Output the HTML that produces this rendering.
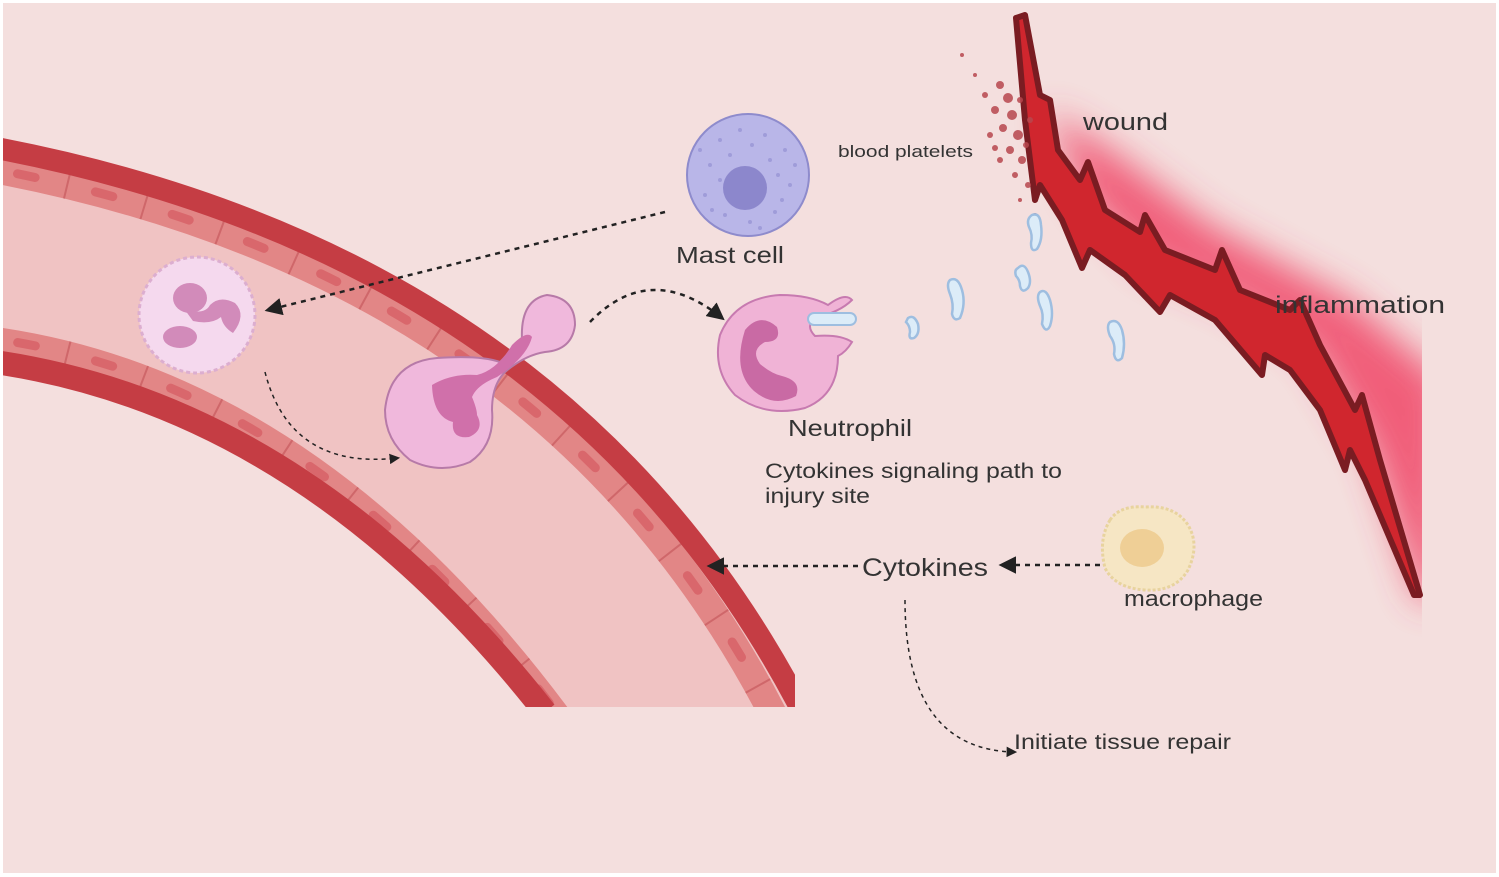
<!DOCTYPE html>
<html><head><meta charset="utf-8"><style>
html,body{margin:0;padding:0;background:#fff;}
svg{display:block;}
text{font-family:"Liberation Sans",sans-serif;fill:#333;}
</style></head><body>
<svg width="1499" height="877" viewBox="0 0 1499 877" xmlns="http://www.w3.org/2000/svg">
<defs>
<clipPath id="vc"><rect x="3" y="0" width="792" height="707"/></clipPath>
<clipPath id="gc"><rect x="900" y="0" width="522" height="877"/></clipPath>
<filter id="bl" x="-50%" y="-50%" width="200%" height="200%"><feGaussianBlur stdDeviation="18"/></filter>
<marker id="ah" viewBox="0 0 10 10" refX="8" refY="5" markerWidth="7" markerHeight="7" orient="auto"><path d="M0,0 L10,5 L0,10 z" fill="#222"/></marker>
</defs>
<rect x="0" y="0" width="1499" height="877" fill="#fff"/>
<rect x="3" y="3" width="1493" height="870" fill="#f4dfde"/>

<!-- vessel -->
<g clip-path="url(#vc)">
  <path d="M-20,145 Q560,250 800,707 L560,707 Q300,400 -20,360 Z" fill="#f0c3c3"/>
  <path d="M-12,168 Q548,272 776,720" fill="none" stroke="#e28686" stroke-width="28"/>
  <path d="M-12,168 Q548,272 776,720" fill="none" stroke="#c75a5e" stroke-width="28" stroke-dasharray="2 78" opacity="0.7"/>
  <path d="M-12,168 Q548,272 776,720" fill="none" stroke="#d9676c" stroke-width="9" stroke-dasharray="18 62" stroke-linecap="round" stroke-dashoffset="-30"/>
  <path d="M-12,338 Q310,380 562,720" fill="none" stroke="#e28686" stroke-width="24"/>
  <path d="M-12,338 Q310,380 562,720" fill="none" stroke="#c75a5e" stroke-width="24" stroke-dasharray="2 78" opacity="0.7"/>
  <path d="M-12,338 Q310,380 562,720" fill="none" stroke="#d9676c" stroke-width="9" stroke-dasharray="18 62" stroke-linecap="round" stroke-dashoffset="-30"/>
  <path d="M-20,145 Q560,250 800,707" fill="none" stroke="#c53d44" stroke-width="22"/>
  <path d="M-20,360 Q300,400 545,712" fill="none" stroke="#c53d44" stroke-width="24"/>
</g>

<!-- glow & wound -->
<g clip-path="url(#gc)">
<polygon points="1045,110 1085,200 1150,265 1230,300 1310,350 1370,450 1420,600 1445,600 1445,380 1350,300 1210,225 1110,150" fill="#f03c60" filter="url(#bl)" opacity="0.8"/>
</g>
<polygon points="1025,15 1040,95 1050,100 1058,150 1080,180 1088,162 1105,210 1140,232 1145,215 1165,250 1215,270 1222,250 1240,290 1290,310 1300,300 1320,345 1355,410 1362,395 1380,460 1420,595 1414,595 1365,480 1350,450 1345,470 1320,410 1290,370 1265,355 1262,375 1215,320 1170,295 1160,312 1125,275 1090,250 1082,268 1062,220 1040,185 1035,200 1025,120 1016,18" fill="#d0262e" stroke="#7a1c22" stroke-width="6" stroke-linejoin="round"/>

<!-- platelets -->
<g fill="#b8474e" opacity="0.85">
<circle cx="1000" cy="85" r="4"/><circle cx="1008" cy="98" r="5"/><circle cx="995" cy="110" r="4"/><circle cx="1012" cy="115" r="5"/><circle cx="1003" cy="128" r="4"/><circle cx="1018" cy="135" r="5"/><circle cx="990" cy="135" r="3"/><circle cx="1010" cy="150" r="4"/><circle cx="1022" cy="160" r="4"/><circle cx="1000" cy="160" r="3"/><circle cx="1015" cy="175" r="3"/><circle cx="1028" cy="185" r="3"/><circle cx="985" cy="95" r="3"/><circle cx="975" cy="75" r="2"/><circle cx="962" cy="55" r="2"/><circle cx="1020" cy="100" r="3"/><circle cx="1026" cy="145" r="3"/><circle cx="995" cy="148" r="3"/><circle cx="1030" cy="120" r="3"/><circle cx="1020" cy="200" r="2"/><circle cx="1035" cy="215" r="2"/>
</g>

<!-- bacteria -->
<g fill="#dcecf8" stroke="#9ebee0" stroke-width="2.5">
<path d="M1032,215 q8,-3 9,10 q2,15 -4,24 q-6,4 -6,-6 q2,-8 -2,-16 q-3,-8 3,-12z"/>
<path d="M1018,268 q6,-6 10,4 q4,10 0,16 q-6,6 -8,-2 q0,-6 -4,-10 q-2,-6 2,-8z"/>
<path d="M1040,292 q6,-4 10,8 q4,14 0,26 q-4,8 -8,-2 q2,-10 -2,-18 q-4,-10 0,-14z"/>
<path d="M950,280 q8,-4 12,10 q4,14 -2,28 q-6,4 -8,-4 q2,-10 -2,-20 q-4,-10 0,-14z"/>
<path d="M908,318 q6,-4 10,6 q2,10 -4,14 q-6,2 -4,-6 q0,-6 -4,-10z"/>
<path d="M1110,322 q8,-4 12,8 q4,14 0,28 q-6,6 -8,-4 q2,-10 -4,-18 q-4,-10 0,-14z"/>
</g>

<!-- mast cell -->
<circle cx="748" cy="175" r="61" fill="#b9b6e8" stroke="#8e8bcc" stroke-width="2"/>
<g fill="#8f8bd0" opacity="0.6">
<circle cx="720" cy="140" r="2"/><circle cx="740" cy="130" r="2"/><circle cx="765" cy="135" r="2"/><circle cx="785" cy="150" r="2"/><circle cx="710" cy="165" r="2"/><circle cx="705" cy="195" r="2"/><circle cx="725" cy="215" r="2"/><circle cx="750" cy="222" r="2"/><circle cx="775" cy="212" r="2"/><circle cx="790" cy="185" r="2"/><circle cx="730" cy="155" r="2"/><circle cx="770" cy="160" r="2"/><circle cx="700" cy="150" r="2"/><circle cx="795" cy="165" r="2"/><circle cx="760" cy="228" r="2"/><circle cx="712" cy="210" r="2"/><circle cx="782" cy="200" r="2"/><circle cx="752" cy="145" r="2"/><circle cx="720" cy="180" r="2"/><circle cx="778" cy="175" r="2"/>
</g>
<circle cx="745" cy="188" r="22" fill="#8c87cc"/>

<!-- pale neutrophil in vessel -->
<circle cx="197" cy="315" r="58" fill="#f5d9ee" stroke="#dcaed0" stroke-width="3" stroke-dasharray="4 3"/>
<ellipse cx="190" cy="298" rx="17" ry="15" fill="#d28bba"/>
<ellipse cx="180" cy="337" rx="17" ry="11" fill="#d28bba"/>
<path d="M185,310 q20,5 25,-5 q10,-10 25,-2 q12,12 -2,30 q-10,-6 -12,-16 q-10,8 -28,4z" fill="#d28bba"/>

<!-- transmigrating neutrophil -->
<path d="M437,358 Q480,355 500,362 Q512,350 522,340 Q520,300 547,295 Q575,298 575,325 Q572,350 545,352 Q525,355 505,372 Q492,385 492,410 Q495,445 470,462 Q440,475 410,460 Q385,440 385,410 Q390,362 437,358z" fill="#f0b8dc" stroke="#b77aa8" stroke-width="2"/>
<path d="M432,385 q20,-12 45,-10 q20,-5 35,-30 q15,-15 20,-8 q-5,20 -35,40 q-20,8 -25,20 q5,12 5,18 q8,15 -8,22 q-18,2 -16,-15 q-20,-5 -21,-37z" fill="#d070aa"/>

<!-- neutrophil right -->
<path d="M780,295 Q810,295 828,305 Q845,292 852,300 Q840,312 815,318 Q805,326 815,336 Q840,334 852,342 Q846,352 838,356 Q838,395 805,408 Q765,418 735,395 Q712,370 720,335 Q735,298 780,295z" fill="#f0b3d6" stroke="#c77ab0" stroke-width="2"/>
<path d="M745,330 q15,-18 32,-3 q5,15 -12,15 q-15,8 -5,22 q12,10 22,12 q20,5 14,20 q-22,12 -42,-5 q-22,-20 -9,-61z" fill="#c96aa4"/>
<rect x="808" y="313" width="48" height="12" rx="6" fill="#dcecf8" stroke="#9ebee0" stroke-width="2"/>

<!-- macrophage -->
<path d="M1110,520 Q1120,505 1145,507 Q1175,505 1188,525 Q1200,545 1188,570 Q1175,592 1145,590 Q1115,588 1105,568 Q1098,540 1110,520z" fill="#f6e6c4" stroke="#e8d39e" stroke-width="3" stroke-dasharray="3 2"/>
<ellipse cx="1142" cy="548" rx="22" ry="19" fill="#efcf96"/>

<!-- arrows -->
<g fill="none" stroke="#222" stroke-width="2.5" stroke-dasharray="5 5">
<path d="M665,212 L268,310" marker-end="url(#ah)"/>
<path d="M590,322 Q650,260 722,318" marker-end="url(#ah)"/>
<path d="M858,566 L710,566" marker-end="url(#ah)"/>
<path d="M1100,565 L1002,565" marker-end="url(#ah)"/>
</g>
<g fill="none" stroke="#222" stroke-width="1.5" stroke-dasharray="4 4">
<path d="M265,372 Q290,470 398,458" marker-end="url(#ah)"/>
<path d="M905,600 Q905,750 1015,752" marker-end="url(#ah)"/>
</g>

<!-- labels -->
<g font-size="24">
<text x="1083" y="130" textLength="85" lengthAdjust="spacingAndGlyphs">wound</text>
<text x="1275" y="313" textLength="170" lengthAdjust="spacingAndGlyphs">inflammation</text>
<text x="838" y="157" font-size="17" textLength="135" lengthAdjust="spacingAndGlyphs">blood platelets</text>
<text x="676" y="263" font-size="23" textLength="108" lengthAdjust="spacingAndGlyphs">Mast cell</text>
<text x="788" y="436" font-size="23" textLength="124" lengthAdjust="spacingAndGlyphs">Neutrophil</text>
<text x="765" y="478" font-size="21" textLength="297" lengthAdjust="spacingAndGlyphs">Cytokines signaling path to</text>
<text x="765" y="503" font-size="21" textLength="105" lengthAdjust="spacingAndGlyphs">injury site</text>
<text x="862" y="576" font-size="25" textLength="126" lengthAdjust="spacingAndGlyphs">Cytokines</text>
<text x="1124" y="606" font-size="22" textLength="139" lengthAdjust="spacingAndGlyphs">macrophage</text>
<text x="1014" y="749" font-size="21" textLength="217" lengthAdjust="spacingAndGlyphs">Initiate tissue repair</text>
</g>
</svg>
</body></html>
